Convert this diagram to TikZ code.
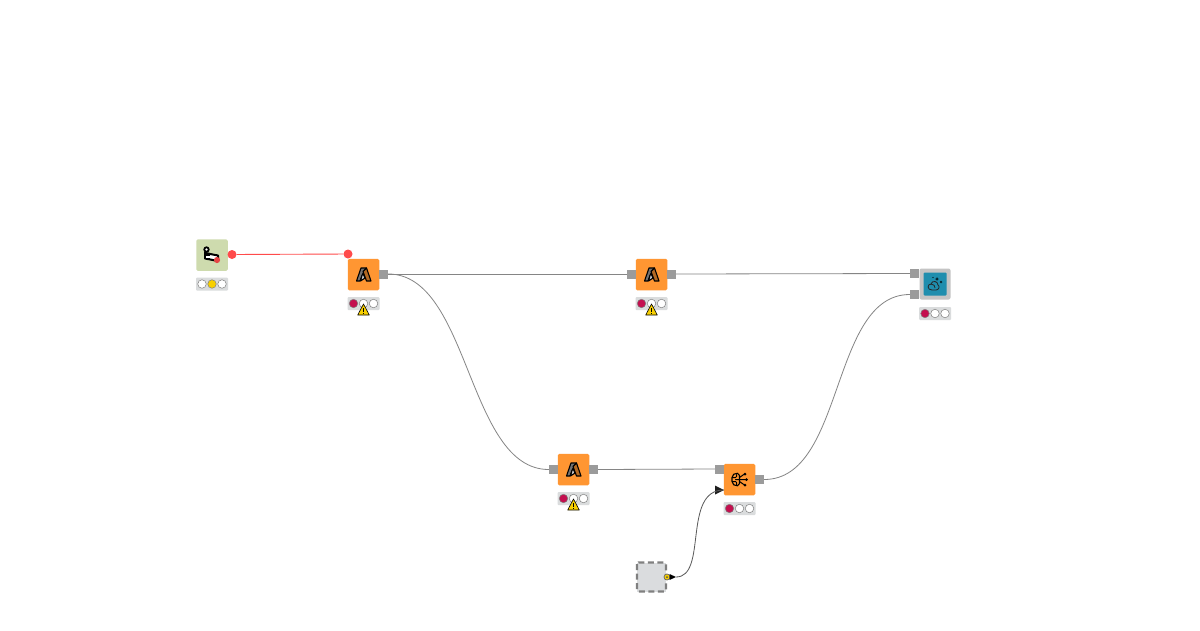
\documentclass[tikz,border=0pt]{standalone}
\usetikzlibrary{arrows.meta}
\definecolor{nodeorange}{HTML}{FF9632}
\definecolor{nodegreen}{HTML}{CEDBAE}
\definecolor{nodeteal}{HTML}{1F8EAE}
\definecolor{compgrey}{HTML}{C4C4C4}
\definecolor{portgrey}{HTML}{9B9B9B}
\definecolor{lightbg}{HTML}{DADCDD}
\definecolor{lightred}{HTML}{C40F4F}
\definecolor{lightyellow}{HTML}{F8D000}
\definecolor{redconn}{HTML}{FF4B4B}
\definecolor{wirec}{HTML}{858585}
\definecolor{vargrey}{HTML}{DADCDE}
\tikzset{
  knode/.style={rectangle,rounded corners=1.5pt,minimum size=31.5pt,inner sep=0pt,fill=#1},
  outport/.style={rectangle,minimum width=9pt,minimum height=9pt,inner sep=0pt,fill=portgrey},
  lightbar/.style={rectangle,rounded corners=1pt,minimum width=32pt,minimum height=13pt,inner sep=0pt,fill=lightbg},
  lamp/.style={circle,minimum size=8.5pt,inner sep=0pt,draw=black!50,line width=.5pt,fill=#1},
  warn/.style={fill=lightyellow,draw=black,line width=.6pt,line join=round},
  wire/.style={draw=wirec,line width=.8pt},
  reddot/.style={circle,minimum size=9pt,inner sep=0pt,fill=redconn},
  iconline/.style={draw=black,line width=1.1pt,line join=round,line cap=round},
}
\newcommand{\statusbar}[5]{%
  \node[lightbar] (#1) at (#2) {};
  \node[lamp=#3] (#1l) at ([xshift=-10pt]#1.center) {};
  \node[lamp=#4] (#1m) at (#1.center) {};
  \node[lamp=#5] (#1r) at ([xshift=10pt]#1.center) {};
}
\newcommand{\warnsign}[1]{%
  \path[warn] ([shift={(0,-5.5)}]#1.center) -- ++(5.8,11) -- ++(-11.6,0) -- cycle;
  \fill[black] ([shift={(-.5,-2)}]#1.center) rectangle ++(1,4);
  \fill[black] ([shift={(-.5,3)}]#1.center) rectangle ++(1,1);
}
\newcommand{\azureicon}[1]{%
  \begin{scope}[shift={(#1.center)}]
    \path[iconline,fill=black!55] (-7,6.5) -- (-2.5,-6.5) -- (3,-6.5) -- (-1.5,1) -- (-3.5,6.5) -- cycle;
    \path[iconline,fill=white!80!black] (-0.5,-1) -- (1.5,3.5) -- (-3,6.5) -- (-1.5,1) -- cycle;
    \path[iconline,fill=nodeorange!70!black] (3,-6.5) -- (7.5,6.5) -- (3,6.5) -- (-0.5,-3) -- cycle;
  \end{scope}
}
\begin{document}
\begin{tikzpicture}[x=1pt,y=-1pt]
\useasboundingbox (0,0) rectangle (1200,630);
\fill[white] (0,0) rectangle (1200,630);

% source node
\node[knode=nodegreen] (src) at (212,255) {};
\statusbar{srcs}{212,284}{white}{lightyellow}{white}
\begin{scope}[shift={(src.center)}]
  \path[draw=black,line width=2pt,line join=round,fill=white] (-7,-2) -- (6,0.5) -- (6,6) -- (-7,3.5) -- cycle;
  \fill[black] (-8,-3) -- (-2,-2) -- (-2,-1) -- (-8,-1) -- cycle;
  \draw[black,line width=1.8pt,fill=white] (-5.5,-5.5) circle (2.2pt);
  \fill[black] (-8,-1.5) rectangle (-2,3.5);
  \fill[white] (-6,.5) rectangle (-2,2.5);
  \fill[redconn!90!black] (5,5) circle (3.1pt);
\end{scope}
\node[reddot] (srcout) at (232,254.5) {};
\node[reddot] (a1in) at (348,254) {};

% orange azure nodes
\node[knode=nodeorange] (a1) at (363.5,274.5) {};
\node[knode=nodeorange] (a2) at (651.5,274.5) {};
\node[knode=nodeorange] (a3) at (573.5,469.5) {};
\azureicon{a1}\azureicon{a2}\azureicon{a3}
\node[outport] (a1o) at (383.5,274) {};
\node[outport] (a2i) at (631.5,274) {};
\node[outport] (a2o) at (671.5,274) {};
\node[outport] (a3i) at (553.5,469.5) {};
\node[outport] (a3o) at (593.5,469.5) {};
\statusbar{a1s}{363.5,303.5}{lightred}{white}{white}
\statusbar{a2s}{651.5,303.5}{lightred}{white}{white}
\statusbar{a3s}{573.5,498.5}{lightred}{white}{white}
\coordinate (w1) at (363.5,309.5);
\coordinate (w2) at (651.5,309.5);
\coordinate (w3) at (573.5,504.5);
\warnsign{w1}\warnsign{w2}\warnsign{w3}

% prompter node
\node[knode=nodeorange] (b) at (739.5,479.5) {};
\node[outport] (bi) at (719.5,469) {};
\node[outport] (bo) at (759.5,479.5) {};
\statusbar{bs}{739.5,508.5}{lightred}{white}{white}
\begin{scope}[shift={(b.center)}]
  \path[iconline,line width=1.1pt,rounded corners=2pt] (0,-6) -- (-4,-6.5) -- (-7.5,-4) -- (-7.5,4) -- (-4,6.5) -- (0,6) -- cycle;
  \path[iconline,line width=1pt,rounded corners=1pt] (-7,-2) -- (-3,-2) -- (-3,-5) (-7,2) -- (-3,2) -- (-3,5) (-4,0) -- (0,0);
  \path[iconline,line width=1pt] (0,0) -- (7,0) (0,-2) -- (5,-5.5) (0,2) -- (5,5.5);
  \fill[black] (7,0) circle (1.5pt) (5.5,-5.5) circle (1.5pt) (5.5,5.5) circle (1.5pt);
\end{scope}
\node[inner sep=0pt,minimum size=0pt] (barrow) at (724,490) {};
\path[fill=black!88] (715,485.5) -- (724,490) -- (715,494.5) -- cycle;

% component
\node[rectangle,rounded corners=2pt,minimum size=31pt,inner sep=0pt,fill=compgrey] (compo) at (935,284) {};
\node[rectangle,rounded corners=1pt,minimum size=23pt,inner sep=0pt,fill=nodeteal] (comp) at (935,284) {};
\node[outport] (ci1) at (914.5,273.5) {};
\node[outport] (ci2) at (914.5,294.5) {};
\statusbar{cs}{935,313.5}{lightred}{white}{white}
\begin{scope}[shift={(comp.center)}]
  \path[draw=black!85,line width=.8pt,fill=none] (-3,6) .. controls (-8,6) and (-8,0) .. (-4,0) .. controls (-3,-4) and (3,-3) .. (3,1) .. controls (5,2) and (4,6) .. (1,6) -- cycle;
  \path[draw=black!85,line width=.8pt] (-4,0) .. controls (-1,0) and (0,2) .. (0,4);
  \fill[black] (2,-7) -- (2.5,-5.5) -- (4,-5) -- (2.5,-4.5) -- (2,-3) -- (1.5,-4.5) -- (0,-5) -- (1.5,-5.5) -- cycle;
  \fill[black] (6,-3.5) -- (6.4,-2.4) -- (7.5,-2) -- (6.4,-1.6) -- (6,-.5) -- (5.6,-1.6) -- (4.5,-2) -- (5.6,-2.4) -- cycle;
  \fill[black] (-2,-6.5) circle (.7pt);
\end{scope}

% variable (dashed) node
\node[rectangle,minimum size=29pt,inner sep=0pt,fill=vargrey] (var) at (651.5,577) {};
\draw[draw=black!50,line width=2.2pt,rounded corners=1.5pt,dash pattern=on 6pt off 3.5pt] (637,562.5) rectangle (666,591.5);
\node[circle,minimum size=6pt,inner sep=0pt,fill=lightyellow,draw=black!60,line width=.7pt] (varo) at (667,577) {};
\fill[black!70] (667,577) circle (1pt);
\path[fill=black] (669.5,574) -- (676,577) -- (669.5,580) -- cycle;
\coordinate (varw) at (676,577);

% connectors
\draw[redconn,line width=.9pt] (srcout) -- (a1in);
\draw[wire] (a1o.east) -- (a2i.west);
\draw[wire] (a1o.east) .. controls (470,274) and (467,469.5) .. (a3i.west);
\draw[wire] (a2o.east) -- (ci1.west);
\draw[wire] (a3o.east) -- (bi.west);
\draw[wire] (bo.east) .. controls (845,479.5) and (830,294.5) .. (ci2.west);
\draw[draw=black!65,line width=.8pt] (varw) .. controls (708,577) and (682,490) .. (barrow.west);
\end{tikzpicture}
\end{document}
